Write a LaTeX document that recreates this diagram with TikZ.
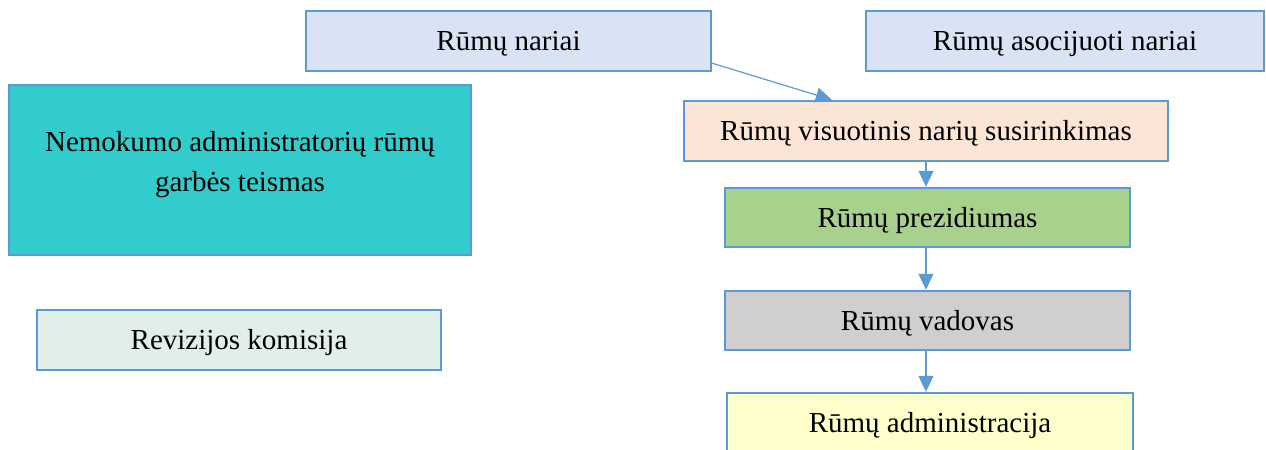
\documentclass[tikz,border=0pt]{standalone}
\usepackage{fontspec}
\setmainfont{Liberation Serif}
\usepackage{xcolor}
\usetikzlibrary{positioning,calc,arrows.meta}

\definecolor{edgeblue}{HTML}{5B9BD5}
\definecolor{nariaifill}{HTML}{DAE3F3}
\definecolor{teismasfill}{HTML}{33CCCC}
\definecolor{revizfill}{HTML}{E2EFE9}
\definecolor{susirfill}{HTML}{FBE5D6}
\definecolor{prezfill}{HTML}{A9D18E}
\definecolor{vadfill}{HTML}{D0CECE}
\definecolor{admfill}{HTML}{FFFFCC}

\tikzset{
  orgbox/.style={draw=edgeblue, line width=1.2pt, inner sep=2pt,
    minimum height=30pt, font=\fontsize{14.5}{20}\selectfont},
  linebox/.style={orgbox, text height=12.5pt, text depth=3pt},
  orgarrow/.style={draw=edgeblue, line width=0.6pt,
    -{Triangle[length=8pt,width=7.5pt]}}
}

\begin{document}
\begin{tikzpicture}[x=0.5pt,y=-0.5pt]
  \useasboundingbox (0,0) rectangle (1266,450);
  % top row
  \node[linebox, fill=nariaifill, minimum width=202.5pt] (nariai) at (508.5,41) {Rūmų nariai};
  \node[linebox, fill=nariaifill, minimum width=199pt] (asoc) at (1065,41) {Rūmų asocijuoti nariai};
  % left column
  \node[orgbox, fill=teismasfill, minimum width=231pt, minimum height=85pt,
    align=center, text depth=9pt] (teismas) at (240,170)
    {Nemokumo administratorių rūmų\\garbės teismas};
  \node[linebox, fill=revizfill, minimum width=202pt] (reviz) at (239,340) {Revizijos komisija};
  % right column
  \node[linebox, fill=susirfill, minimum width=242pt] (susir) at (926,131) {Rūmų visuotinis narių susirinkimas};
  \node[linebox, fill=prezfill, minimum width=202.5pt, minimum height=29.5pt] (prez) at (927.5,217.5) {Rūmų prezidiumas};
  \node[linebox, fill=vadfill, minimum width=202.5pt, minimum height=29.5pt] (vad) at (927.5,320.5) {Rūmų vadovas};
  \node[linebox, fill=admfill, minimum width=203pt] (adm) at (930,423) {Rūmų administracija};
  % arrows
  \draw[orgarrow] ($(nariai.south east)+(0,-9)$) -- ($(susir.north west)+(149,0)$);
  \draw[orgarrow] (susir.south) -- (susir.south |- prez.north);
  \draw[orgarrow] (susir.south |- prez.south) -- (susir.south |- vad.north);
  \draw[orgarrow] (susir.south |- vad.south) -- (susir.south |- adm.north);
\end{tikzpicture}
\end{document}
